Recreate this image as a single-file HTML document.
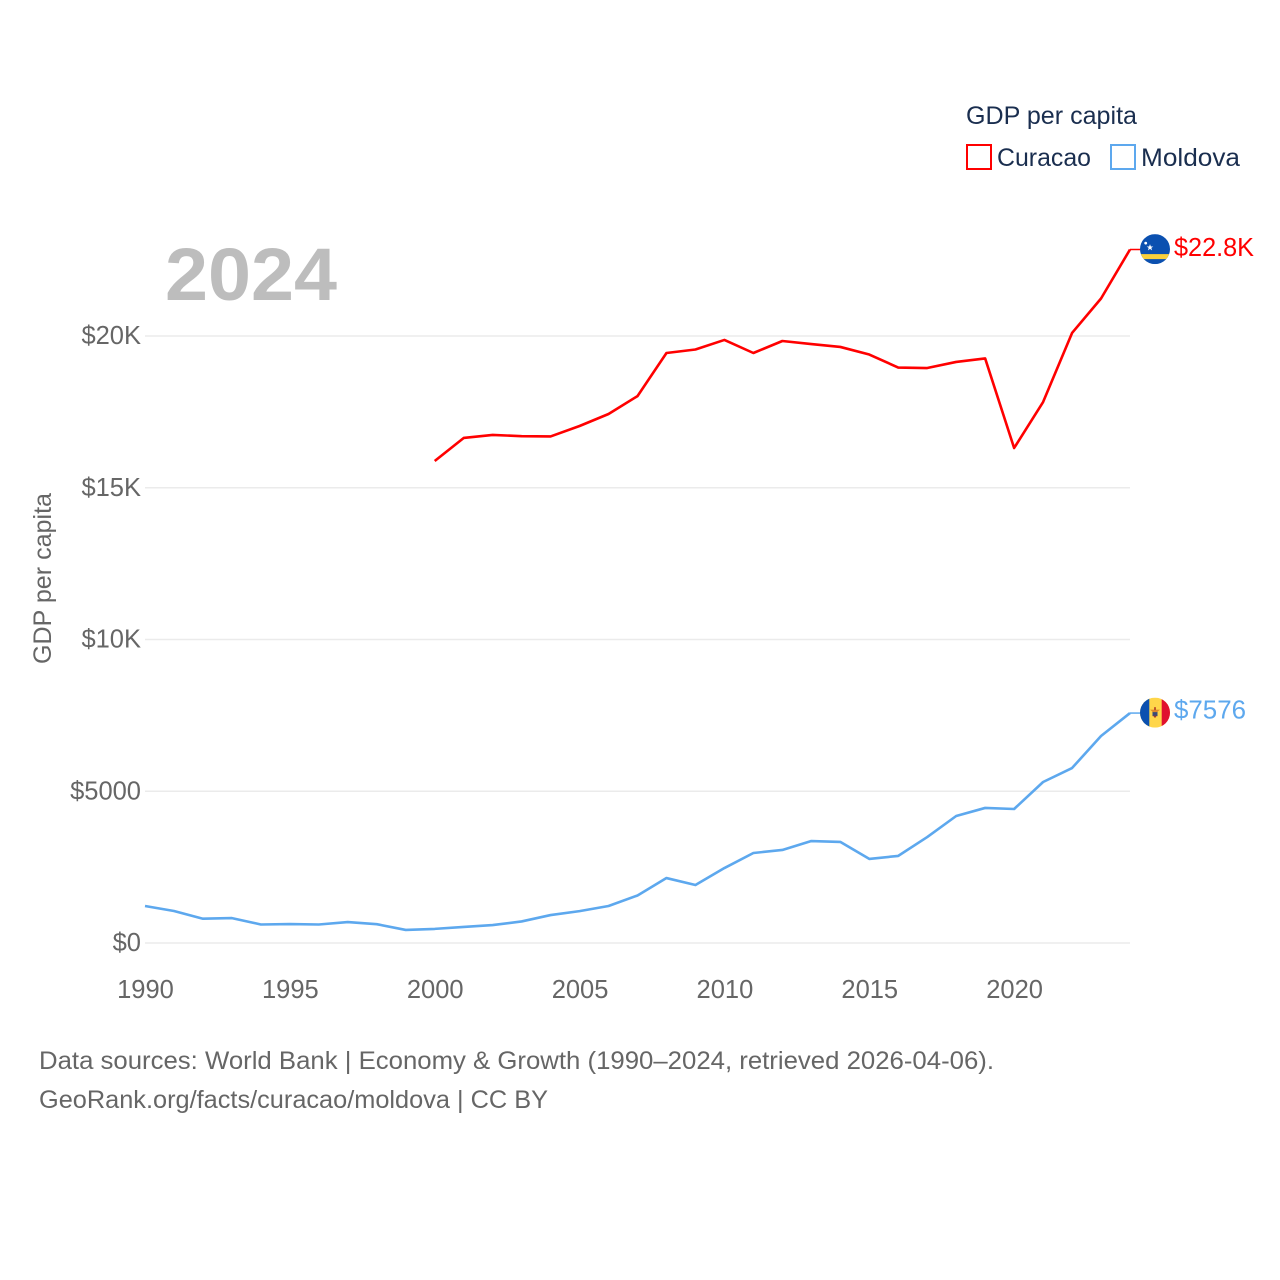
<!DOCTYPE html>
<html lang="en">
<head>
<meta charset="utf-8">
<title>GDP per capita: Curacao and Moldova</title>
<style>
html,body{margin:0;padding:0;background:#fff}
svg{display:block;font-family:"Liberation Sans",Arial,sans-serif}
</style>
</head>
<body>
<svg id="chart" width="1280" height="1280" viewBox="0 0 1280 1280" xmlns="http://www.w3.org/2000/svg">
  <rect width="1280" height="1280" fill="#fff"/>
  <g id="grid"></g>
  <g id="ytickgroup"></g>
  <g id="xtickgroup"></g>
  <text x="165" y="300" font-size="74" font-weight="700" fill="#bdbdbd" textLength="172" lengthAdjust="spacingAndGlyphs">2024</text>
  <text transform="translate(51,664) rotate(-90)" font-size="25" fill="#666" textLength="171" lengthAdjust="spacingAndGlyphs">GDP per capita</text>
  <g>
    <text x="966" y="124" font-size="25" fill="#1a2e4f" textLength="171" lengthAdjust="spacingAndGlyphs">GDP per capita</text>
    <rect x="967" y="145" width="24" height="24" fill="none" stroke="#ff0000" stroke-width="2"/>
    <text x="997" y="166" font-size="25" fill="#1a2e4f" textLength="94" lengthAdjust="spacingAndGlyphs">Curacao</text>
    <rect x="1111" y="145" width="24" height="24" fill="none" stroke="#5da8ee" stroke-width="2"/>
    <text x="1141" y="166" font-size="25" fill="#1a2e4f" textLength="99" lengthAdjust="spacingAndGlyphs">Moldova</text>
  </g>
  <g id="series"></g>
  <defs>
    <clipPath id="flag-clip"><circle cx="0" cy="0" r="15"/></clipPath>
  </defs>
  <g id="flag-curacao">
    <g clip-path="url(#flag-clip)">
      <rect x="-15" y="-15" width="30" height="30" fill="#0b50b0"/>
      <rect x="-15" y="5" width="30" height="5" fill="#f9d03c"/>
      <polygon points="0,-3 0.8,-1 3,-1 1.2,0.3 1.9,2.5 0,1.2 -1.9,2.5 -1.2,0.3 -3,-1 -0.8,-1" fill="#fff" transform="translate(-5,-1.5) scale(1.1)"/>
      <circle cx="-9.3" cy="-6" r="1.4" fill="#fff"/>
    </g>
  </g>
  <g id="flag-moldova">
    <g clip-path="url(#flag-clip)">
      <rect x="-15" y="-15" width="30" height="30" fill="#ffd64a"/>
      <rect x="-15" y="-15" width="9.3" height="30" fill="#0b50b0"/>
      <rect x="6.7" y="-15" width="8.3" height="30" fill="#e0112f"/>
      <rect x="-2.5" y="-2.5" width="5" height="6" fill="#3c4a78"/>
      <polygon points="-5,-3 5,-3 2,-0.5 -2,-0.5" fill="#e08a2c"/>
      <rect x="-1" y="-5.5" width="2" height="3" fill="#c0562a"/>
      <polygon points="-1.8,3 1.8,3 0,5.5" fill="#a13a2a"/>
    </g>
  </g>
  <g id="endlabels"></g>
  <text x="39" y="1069" font-size="25" fill="#666" textLength="955" lengthAdjust="spacingAndGlyphs">Data sources: World Bank | Economy &amp; Growth (1990–2024, retrieved 2026-04-06).</text>
  <text x="39" y="1108" font-size="25" fill="#666" textLength="509" lengthAdjust="spacingAndGlyphs">GeoRank.org/facts/curacao/moldova | CC BY</text>
</svg>
<script>
const years = [1990,1991,1992,1993,1994,1995,1996,1997,1998,1999,2000,2001,2002,2003,2004,2005,2006,2007,2008,2009,2010,2011,2012,2013,2014,2015,2016,2017,2018,2019,2020,2021,2022,2023,2024];
const curacaoValues = [null,null,null,null,null,null,null,null,null,null,15880,16640,16740,16700,16690,17035,17430,18020,19440,19555,19870,19440,19835,19735,19640,19390,18960,18945,19145,19260,16310,17825,20100,21235,22850];
const moldovaValues = [1219,1054,800,820,610,625,610,690,620,430,465,530,590,710,920,1050,1220,1565,2140,1910,2470,2965,3065,3360,3330,2770,2870,3490,4185,4450,4415,5305,5765,6820,7576];
const yTickValues = [0,5000,10000,15000,20000];
const yTickLabels = ["$0","$5000","$10K","$15K","$20K"];
const xTickValues = [1990,1995,2000,2005,2010,2015,2020];
const xTickLabels = ["1990","1995","2000","2005","2010","2015","2020"];
const curacaoLabel = "$22.8K";
const moldovaLabel = "$7576";

const NS = "http://www.w3.org/2000/svg";
const plotLeft = 145, plotRight = 1130, plotBottom = 943, pxPerDollar = 0.03035, pxPerYear = (plotRight - plotLeft) / 34;
function xScale(year){ return plotLeft + (year - 1990) * pxPerYear; }
function yScale(value){ return plotBottom - value * pxPerDollar; }
function make(tag, attrs, parent){
  const el = document.createElementNS(NS, tag);
  for (const k in attrs) el.setAttribute(k, attrs[k]);
  parent.appendChild(el);
  return el;
}

const grid = document.getElementById("grid");
const yGroup = document.getElementById("ytickgroup");
const xGroup = document.getElementById("xtickgroup");
const seriesGroup = document.getElementById("series");
const labelGroup = document.getElementById("endlabels");

yTickValues.forEach(function(v, i){
  const y = yScale(v);
  const line = make("line", {x1: plotLeft, x2: plotRight, y1: y, y2: y, stroke: "#ebebeb", "stroke-width": 1.5}, grid);
  
  
  const t = make("text", {x: 141, y: y + 8, "text-anchor": "end", "font-size": 25.5, fill: "#666"}, yGroup);
  t.textContent = yTickLabels[i];
  
  
});

xTickValues.forEach(function(v, i){
  const t = make("text", {x: xScale(v) + 0.5, y: 998, "text-anchor": "middle", "font-size": 25.5, fill: "#666"}, xGroup);
  t.textContent = xTickLabels[i];
  
  
});

function linePoints(values){
  const pts = [];
  values.forEach(function(v, i){
    if (v !== null) pts.push(xScale(years[i]).toFixed(2) + "," + yScale(v).toFixed(2));
  });
  return pts.join(" ");
}

function lastOf(values){ return values[values.length - 1]; }

const curacaoLine = make("polyline", {points: linePoints(curacaoValues), fill: "none", stroke: "#ff0000", "stroke-width": 2.6, "stroke-linejoin": "round"}, seriesGroup);


const moldovaLine = make("polyline", {points: linePoints(moldovaValues), fill: "none", stroke: "#5da8ee", "stroke-width": 2.6, "stroke-linejoin": "round"}, seriesGroup);



const curacaoY = yScale(lastOf(curacaoValues));
const moldovaY = yScale(lastOf(moldovaValues));

const curacaoConnector = make("line", {x1: plotRight, x2: 1142, y1: curacaoY, y2: curacaoY, stroke: "#ff0000", "stroke-width": 1.5}, seriesGroup);


const moldovaConnector = make("line", {x1: plotRight, x2: 1142, y1: moldovaY, y2: moldovaY, stroke: "#5da8ee", "stroke-width": 1.5}, seriesGroup);



document.getElementById("flag-curacao").setAttribute("transform", "translate(1155," + (curacaoY - 0.4) + ")");
document.getElementById("flag-moldova").setAttribute("transform", "translate(1155," + (moldovaY - 0.4) + ")");

const curacaoText = make("text", {x: 1174, y: curacaoY + 6.5, "font-size": 25.5, fill: "#ff0000", textLength: 80, lengthAdjust: "spacingAndGlyphs"}, labelGroup);
curacaoText.textContent = curacaoLabel;


const moldovaText = make("text", {x: 1174, y: moldovaY + 5.5, "font-size": 25.5, fill: "#5da8ee", textLength: 72, lengthAdjust: "spacingAndGlyphs"}, labelGroup);
moldovaText.textContent = moldovaLabel;


</script>
</body>
</html>
